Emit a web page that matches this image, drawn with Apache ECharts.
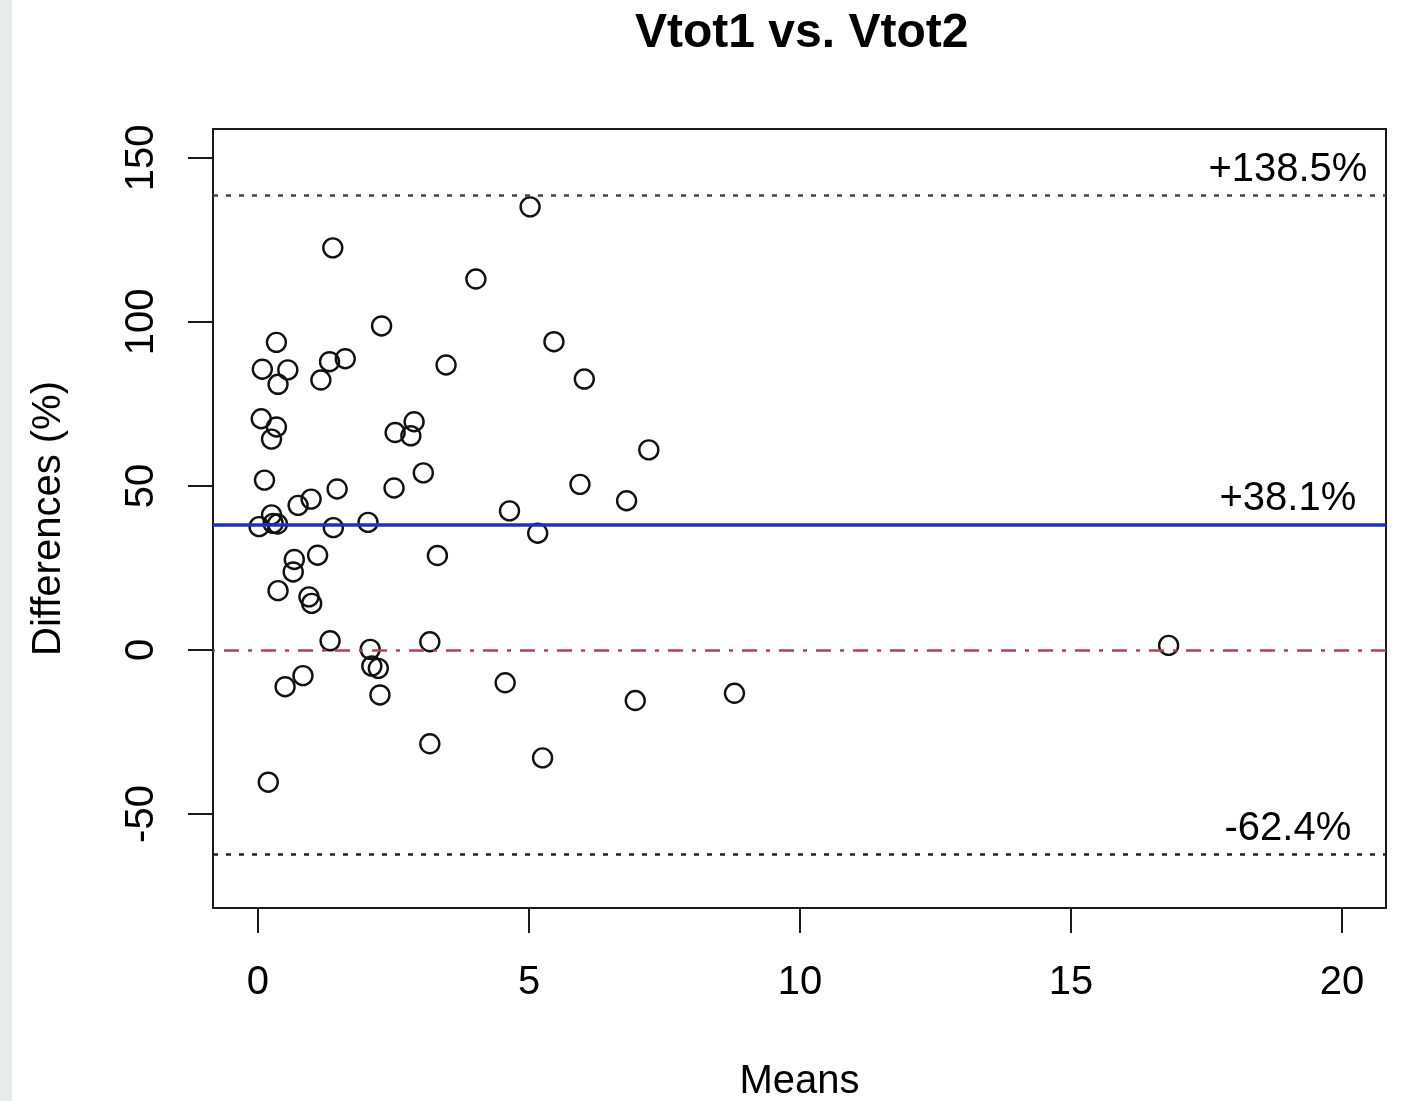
<!DOCTYPE html>
<html>
<head>
<meta charset="utf-8">
<script src="https://cdn.jsdelivr.net/npm/echarts@6/dist/echarts.min.js"></script>
<style>
html,body{margin:0;padding:0;background:#ffffff;}
#chart{width:1402px;height:1101px;}
</style>
</head>
<body>
<div id="chart"></div>
<script>
// Means (x) and differences in % (y)
const means = [5.02, 1.38, 4.02, 2.28, 0.34, 5.46, 0.08, 0.55, 0.37, 1.32,
               1.61, 1.16, 3.47, 6.02, 0.06, 0.34, 0.25, 2.53, 2.88, 2.82,
               7.21, 0.12, 3.05, 2.51, 1.46, 5.94, 6.80, 0.98, 0.74, 4.64,
               0.02, 0.25, 0.28, 0.36, 1.39, 2.03, 5.16, 3.31, 1.10, 0.67,
               0.65, 0.37, 0.94, 0.99, 1.33, 3.17, 2.07, 2.10, 2.22, 2.25,
               0.50, 0.83, 4.56, 6.96, 8.79, 3.17, 5.25, 0.19, 16.80];
const diffs = [135.1, 122.6, 113.1, 98.8, 93.8, 94.0, 85.6, 85.4, 81.0, 87.9,
               88.8, 82.3, 86.9, 82.6, 70.5, 68.0, 64.3, 66.3, 69.6, 65.3,
               61.0, 51.8, 54.0, 49.4, 49.1, 50.5, 45.5, 46.0, 44.1, 42.4,
               37.6, 41.2, 38.6, 38.4, 37.3, 38.9, 35.6, 28.8, 28.9, 27.6,
               23.8, 18.1, 16.2, 14.2, 2.8, 2.5, 0.2, -4.9, -5.6, -13.7,
               -11.2, -7.8, -10.0, -15.4, -13.2, -28.6, -32.9, -40.3, 1.4];
const xTicks = [0, 5, 10, 15, 20];
const yTicks = [-50, 0, 50, 100, 150];
const upperLimit = 138.5;
const meanDiff = 38.1;
const lowerLimit = -62.4;
const zeroLine = 0;
const limitLabels = ['+138.5%', '+38.1%', '-62.4%'];
const limitLabelX = 19;

const FONT = "'Liberation Sans', Arial, Helvetica, sans-serif";

const chart = echarts.init(document.getElementById('chart'), null, {renderer: 'canvas'});

const points = means.map((m, i) => [m, diffs[i]]);
const labelPoints = [upperLimit, meanDiff, lowerLimit].map(v => [limitLabelX, v]);

const option = {
  animation: false,
  backgroundColor: '#ffffff',
  graphic: [{
    type: 'rect', left: 0, top: 0, z: -10,
    shape: {width: 12, height: 1101},
    style: {fill: '#e9eaec'}
  }],
  title: {
    text: 'Vtot1 vs. Vtot2',
    left: 630, top: 5,
    textStyle: {fontFamily: FONT, fontSize: 48, fontWeight: 'bold', color: '#000'}
  },
  grid: {
    left: 213, top: 129, width: 1173, height: 779,
    show: true, borderColor: '#1a1a1a', borderWidth: 2,
    backgroundColor: 'rgba(0,0,0,0)', containLabel: false,
    outerBoundsMode: 'none'
  },
  xAxis: {
    type: 'value', min: -0.83, max: 20.81,
    name: 'Means', nameLocation: 'middle', nameGap: 154,
    nameTextStyle: {fontFamily: FONT, fontSize: 40, color: '#000'},
    axisLine: {show: false, onZero: false},
    splitLine: {show: false},
    axisTick: {show: true, customValues: xTicks, length: 25, lineStyle: {color: '#1a1a1a', width: 2}},
    axisLabel: {customValues: xTicks, fontFamily: FONT, fontSize: 40, color: '#000', margin: 55}
  },
  yAxis: {
    type: 'value', min: -78.66, max: 158.84,
    name: 'Differences (%)', nameLocation: 'middle', nameGap: 144, nameRotate: 90,
    nameTextStyle: {fontFamily: FONT, fontSize: 40, color: '#000'},
    axisLine: {show: false, onZero: false},
    splitLine: {show: false},
    axisTick: {show: true, customValues: yTicks, length: 25, lineStyle: {color: '#1a1a1a', width: 2}},
    axisLabel: {customValues: yTicks, rotate: 90, fontFamily: FONT, fontSize: 40, color: '#000', margin: 51}
  },
  series: [
    {
      type: 'scatter',
      data: points,
      symbol: 'circle',
      symbolSize: 19,
      itemStyle: {color: 'rgba(0,0,0,0)', borderColor: '#111', borderWidth: 2.4, opacity: 1},
      emphasis: {disabled: true},
      markLine: {
        silent: true,
        symbol: ['none', 'none'],
        label: {show: false},
        animation: false,
        data: [
          {yAxis: upperLimit, lineStyle: {color: '#444', width: 2.5, type: [5, 8], opacity: 1}},
          {yAxis: lowerLimit, lineStyle: {color: '#222', width: 2.5, type: [5, 8], opacity: 1}},
          {yAxis: zeroLine, lineStyle: {color: '#b04452', width: 2.6, type: [15, 9, 4, 9], dashOffset: 26, opacity: 1}},
          {yAxis: meanDiff, lineStyle: {color: '#1d2fc4', width: 3.6, type: 'solid', opacity: 1}}
        ]
      }
    },
    {
      type: 'scatter',
      data: labelPoints,
      symbolSize: 0,
      silent: true,
      label: {
        show: true, position: 'top', distance: 6,
        formatter: p => limitLabels[p.dataIndex],
        fontFamily: FONT, fontSize: 40, color: '#000', opacity: 1
      }
    }
  ]
};
chart.setOption(option);
</script>
</body>
</html>
